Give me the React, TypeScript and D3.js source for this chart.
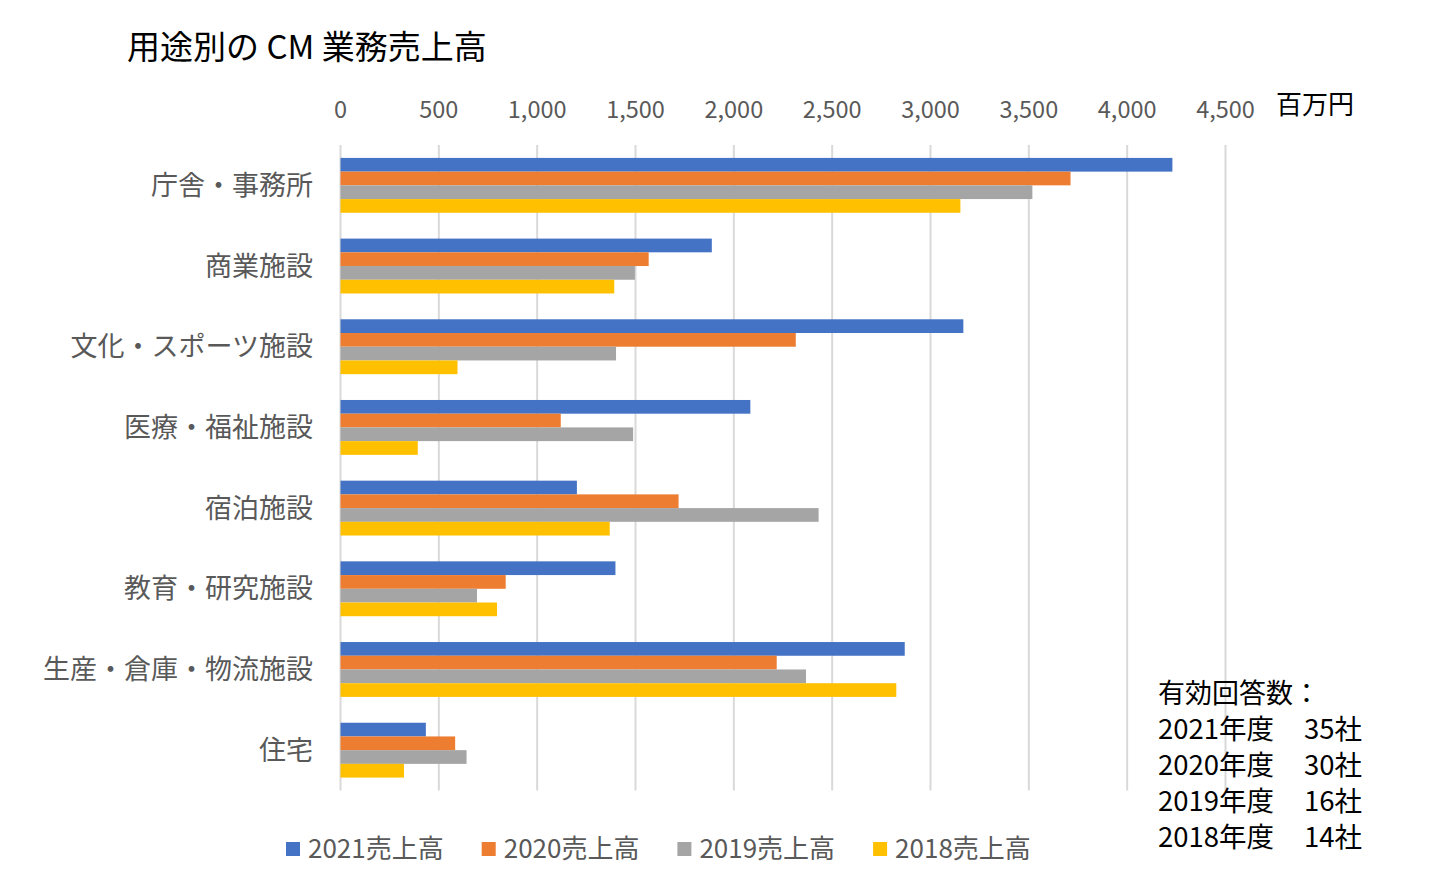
import React from "react";
import * as d3 from "d3";

const categories = [
  "庁舎・事務所",
  "商業施設",
  "文化・スポーツ施設",
  "医療・福祉施設",
  "宿泊施設",
  "教育・研究施設",
  "生産・倉庫・物流施設",
  "住宅",
];
const seriesNames = ["2021売上高", "2020売上高", "2019売上高", "2018売上高"];
const values2021 = [4230, 1888, 3167, 2084, 1202, 1398, 2869, 434];
const values2020 = [3712, 1567, 2315, 1120, 1719, 840, 2218, 583];
const values2019 = [3518, 1497, 1401, 1488, 2431, 694, 2367, 641];
const values2018 = [3152, 1392, 595, 393, 1369, 796, 2826, 323];
const seriesColors = ["#4472C4", "#ED7D31", "#A5A5A5", "#FFC000"];
const xTicks = [0, 500, 1000, 1500, 2000, 2500, 3000, 3500, 4000, 4500];
const noteTitle = "有効回答数：";
const noteYears = ["2021年度", "2020年度", "2019年度", "2018年度"];
const noteCounts = ["35社", "30社", "16社", "14社"];

const FONT = "'Noto Sans CJK JP', 'Noto Sans', sans-serif";

export default function App() {
  const W = 1453;
  const H = 880;
  const left = 340.5;
  const right = 1225.5;
  const top = 145;
  const bottom = 790.5;

  const x = d3.scaleLinear().domain([0, 4500]).range([left, right]);
  const y = d3
    .scaleBand<string>()
    .domain(categories)
    .range([top, bottom])
    .paddingInner(0.32)
    .paddingOuter(0.16);
  const sub = d3
    .scaleBand<string>()
    .domain(seriesNames)
    .range([0, y.bandwidth()]);

  const allSeries = [values2021, values2020, values2019, values2018];
  const fmt = d3.format(",");

  return (
    <svg
      width={W}
      height={H}
      style={{ position: "absolute", left: 0, top: 0, background: "#fff" }}
      fontFamily={FONT}
    >
      <text x={127} y={59} fontSize={33} fill="#000">
        用途別の CM 業務売上高
      </text>

      {xTicks.map((t) => (
        <line
          key={"g" + t}
          x1={x(t)}
          x2={x(t)}
          y1={top}
          y2={bottom}
          stroke="#D9D9D9"
          strokeWidth={2}
        />
      ))}
      {xTicks.map((t) => (
        <text
          key={"t" + t}
          x={x(t)}
          y={118}
          fontSize={23.5}
          fill="#595959"
          textAnchor="middle"
        >
          {fmt(t)}
        </text>
      ))}
      <text x={1276} y={114} fontSize={26} fill="#000">
        百万円
      </text>

      {categories.map((c, i) => (
        <g key={c}>
          <text
            x={313}
            y={(y(c) as number) + y.bandwidth() / 2 + 9.5}
            fontSize={27}
            fill="#595959"
            textAnchor="end"
          >
            {c}
          </text>
          {allSeries.map((vals, s) => (
            <rect
              key={s}
              x={x(0)}
              y={(y(c) as number) + (sub(seriesNames[s]) as number)}
              width={x(vals[i]) - x(0)}
              height={sub.bandwidth()}
              fill={seriesColors[s]}
            />
          ))}
        </g>
      ))}

      {seriesNames.map((s, i) => (
        <g key={s} transform={`translate(${286 + i * 195.7},0)`}>
          <rect x={0} y={842} width={14} height={14} fill={seriesColors[i]} />
          <text x={22} y={858} fontSize={26} fill="#595959">
            {s}
          </text>
        </g>
      ))}

      <text x={1158} y={703} fontSize={27} fill="#000">
        {noteTitle}
      </text>
      {noteYears.map((yr, i) => (
        <g key={yr}>
          <text x={1158} y={739 + i * 36} fontSize={27.5} fill="#000">
            {yr}
          </text>
          <text
            x={1362}
            y={739 + i * 36}
            fontSize={27.5}
            fill="#000"
            textAnchor="end"
          >
            {noteCounts[i]}
          </text>
        </g>
      ))}
    </svg>
  );
}
